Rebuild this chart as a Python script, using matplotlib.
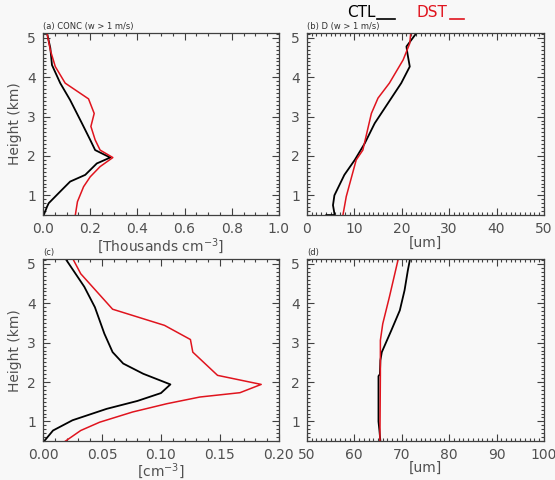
import matplotlib
matplotlib.use('Agg')
import matplotlib.pyplot as plt
from matplotlib.ticker import MultipleLocator

# heights (km) and values
h_conc_ctl = [0.5, 0.71, 0.80, 1.14, 1.35, 1.52, 1.81, 1.96, 2.15, 2.41, 2.83, 3.42, 3.85, 4.31, 4.74, 5.12]
conc_ctl = [0.003, 0.017, 0.024, 0.08, 0.115, 0.179, 0.228, 0.285, 0.221, 0.20, 0.165, 0.115, 0.073, 0.038, 0.031, 0.017]
h_conc_dst = [0.5, 0.84, 1.22, 1.47, 1.73, 1.96, 2.15, 2.41, 2.75, 3.08, 3.45, 3.85, 4.27, 4.69, 5.12]
conc_dst = [0.137, 0.146, 0.172, 0.20, 0.242, 0.296, 0.242, 0.221, 0.203, 0.217, 0.193, 0.094, 0.052, 0.031, 0.017]

h_d_ctl = [0.5, 0.5, 0.54, 0.75, 1.0, 1.52, 1.9, 2.32, 2.83, 3.34, 3.85, 4.27, 4.61, 4.78, 5.12]
d_ctl = [4.1, 5.8, 5.8, 5.5, 5.8, 7.9, 10.1, 12.2, 14.3, 17.1, 19.9, 21.7, 21.2, 21.0, 23.1]
h_d_dst = [0.5, 0.97, 1.9, 2.15, 3.08, 3.47, 3.85, 4.44, 4.86, 5.12]
d_dst = [7.6, 8.3, 10.4, 11.8, 13.6, 15.0, 17.4, 20.3, 21.7, 21.9]

h_c2_ctl = [0.5, 0.77, 1.03, 1.32, 1.52, 1.72, 1.94, 2.21, 2.47, 2.76, 3.23, 3.9, 4.42, 5.09]
c2_ctl = [0.001, 0.0085, 0.025, 0.054, 0.080, 0.100, 0.108, 0.085, 0.068, 0.059, 0.052, 0.044, 0.035, 0.020]
h_c2_dst = [0.5, 0.77, 0.98, 1.24, 1.45, 1.62, 1.73, 1.94, 2.17, 2.76, 3.08, 3.44, 3.85, 4.25, 4.75, 5.09]
c2_dst = [0.019, 0.032, 0.048, 0.076, 0.105, 0.133, 0.167, 0.185, 0.148, 0.127, 0.125, 0.103, 0.059, 0.047, 0.032, 0.026]

h_d2_ctl = [0.5, 0.77, 1.0, 2.15, 2.2, 2.55, 2.76, 3.31, 3.82, 4.33, 4.84, 5.09]
d2_ctl = [65.5, 65.3, 65.1, 65.1, 65.4, 65.5, 65.8, 67.8, 69.6, 70.6, 71.3, 71.7]
h_d2_dst = [0.5, 2.21, 3.06, 3.48, 4.16, 5.09]
d2_dst = [65.4, 65.5, 65.5, 66.0, 67.4, 69.2]

bg = '#f8f8f8'
txt = '#505050'
red = '#e0141e'

fig = plt.figure(figsize=(5.55, 4.8), dpi=100, facecolor=bg)

pos = {
    'a': [0.0775, 0.552, 0.425, 0.379],
    'b': [0.553, 0.552, 0.427, 0.379],
    'c': [0.0775, 0.081, 0.425, 0.379],
    'd': [0.553, 0.081, 0.427, 0.379],
}

def setup(ax, xlim, xmaj, xmin, fmt, title):
    ax.set_facecolor(bg)
    ax.set_xlim(*xlim)
    ax.set_ylim(0.5, 5.12)
    ax.xaxis.set_major_locator(MultipleLocator(xmaj))
    ax.xaxis.set_minor_locator(MultipleLocator(xmin))
    ax.yaxis.set_major_locator(MultipleLocator(1))
    ax.yaxis.set_minor_locator(MultipleLocator(0.1))
    ax.xaxis.set_major_formatter(fmt)
    ax.tick_params(which='both', direction='in', top=True, right=True,
                   colors='#404040', labelcolor=txt, labelsize=10, width=0.8)
    ax.tick_params(which='major', length=5, pad=5)
    ax.tick_params(which='minor', length=2.5)
    for s in ax.spines.values():
        s.set_color('#404040')
        s.set_linewidth(0.9)
    ax.text(0.0, 1.012, title, transform=ax.transAxes, fontsize=6,
            color='#303030', ha='left', va='bottom')

ax_a = fig.add_axes(pos['a'])
ax_a.plot(conc_ctl, h_conc_ctl, color='black', lw=1.3)
ax_a.plot(conc_dst, h_conc_dst, color=red, lw=1.1)
setup(ax_a, (0, 1.0), 0.2, 0.05, '{x:.1f}', '(a) CONC (w > 1 m/s)')
ax_a.set_ylabel('Height (km)', color=txt, fontsize=10, labelpad=4)
ax_a.set_xlabel('[Thousands cm$^{-3}$]', color=txt, fontsize=10, labelpad=0)

ax_b = fig.add_axes(pos['b'])
ax_b.plot(d_ctl, h_d_ctl, color='black', lw=1.3)
ax_b.plot(d_dst, h_d_dst, color=red, lw=1.1)
setup(ax_b, (0, 50), 10, 1, '{x:.0f}', '(b) D (w > 1 m/s)')
ax_b.set_xlabel('[um]', color=txt, fontsize=10, labelpad=0)

ax_c = fig.add_axes(pos['c'])
ax_c.plot(c2_ctl, h_c2_ctl, color='black', lw=1.3)
ax_c.plot(c2_dst, h_c2_dst, color=red, lw=1.1)
setup(ax_c, (0, 0.2), 0.05, 0.01, '{x:.2f}', '(c)')
ax_c.set_ylabel('Height (km)', color=txt, fontsize=10, labelpad=4)
ax_c.set_xlabel('[cm$^{-3}$]', color=txt, fontsize=10, labelpad=-1)

ax_d = fig.add_axes(pos['d'])
ax_d.plot(d2_ctl, h_d2_ctl, color='black', lw=1.3)
ax_d.plot(d2_dst, h_d2_dst, color=red, lw=1.1)
setup(ax_d, (50, 100), 10, 1, '{x:.0f}', '(d)')
ax_d.set_xlabel('[um]', color=txt, fontsize=10, labelpad=-1)

# legend at the top
fig.text(0.625, 0.973, 'CTL', color='black', fontsize=11, ha='left', va='center')
fig.text(0.751, 0.973, 'DST', color=red, fontsize=11, ha='left', va='center')
fig.add_artist(plt.Line2D([0.679, 0.712], [0.961, 0.961], color='black', lw=1.2))
fig.add_artist(plt.Line2D([0.811, 0.836], [0.961, 0.961], color=red, lw=1.2))

fig.savefig('out.png', dpi=100, facecolor=bg)
